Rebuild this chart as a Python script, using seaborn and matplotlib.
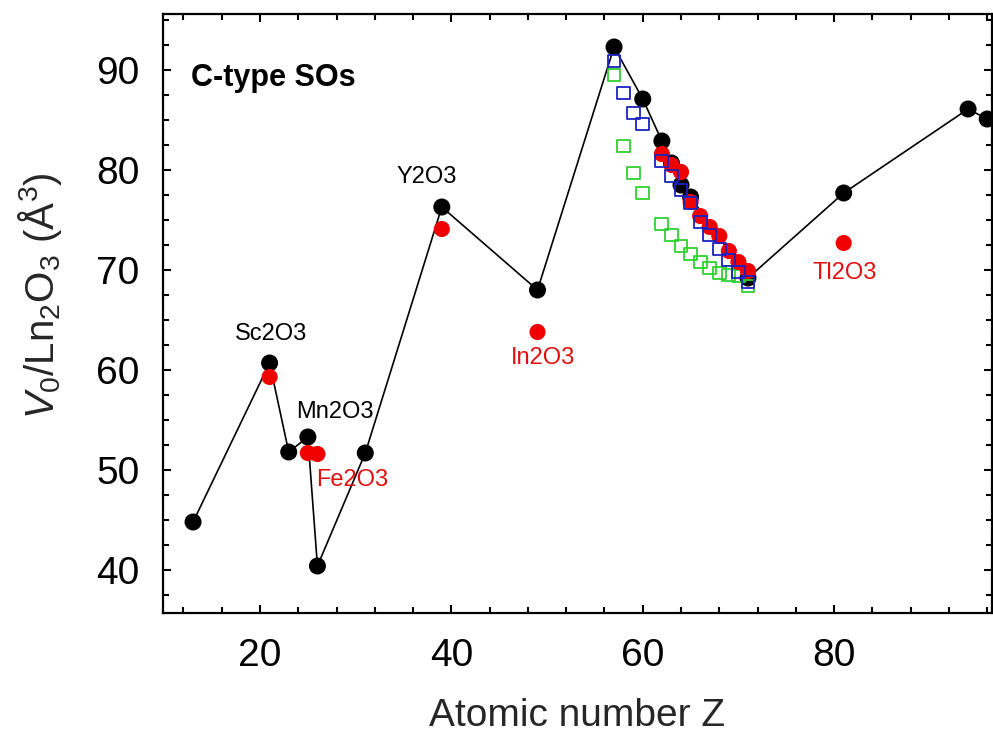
import numpy as np
import pandas as pd
import matplotlib
matplotlib.use("Agg")
import matplotlib.pyplot as plt
import seaborn as sns

# ---- data ----
z_black = [13, 21, 23, 25, 26, 31, 39, 49, 57, 60, 62, 63, 64, 65, 71, 81, 94, 96]
v_black = [44.8, 60.7, 51.8, 53.3, 40.4, 51.7, 76.3, 68.0, 92.3, 87.1, 82.9, 80.7, 78.5, 77.3, 69.2, 77.7, 86.1, 85.1]

z_red = [21, 25, 26, 39, 49, 81, 62, 63, 64, 65, 66, 67, 68, 69, 70, 71]
v_red = [59.3, 51.7, 51.6, 74.1, 63.8, 72.7, 81.6, 80.5, 79.8, 76.8, 75.4, 74.3, 73.4, 71.9, 70.8, 69.9]

z_blue = [57, 58, 59, 60, 62, 63, 64, 65, 66, 67, 68, 69, 70, 71]
v_blue = [90.9, 87.7, 85.7, 84.6, 80.9, 79.4, 78.0, 76.7, 74.8, 73.5, 72.1, 71.0, 69.8, 68.8]

z_green = [57, 58, 59, 60, 62, 63, 64, 65, 66, 67, 68, 69, 70, 71]
v_green = [89.5, 82.4, 79.7, 77.7, 74.6, 73.5, 72.4, 71.6, 70.8, 70.2, 69.7, 69.5, 69.4, 68.4]

labels_black = ["Sc2O3", "Mn2O3", "Y2O3"]
labels_black_pos = [(21.2, 63.6), (27.8, 55.8), (37.4, 79.3)]
labels_red = ["Fe2O3", "In2O3", "Tl2O3"]
labels_red_pos = [(29.6, 49.0), (49.6, 61.2), (81.1, 69.7)]

x_ticks = [20, 40, 60, 80]
y_ticks = [40, 50, 60, 70, 80, 90]

# ---- style ----
sns.set_theme(style="ticks")
plt.rcParams["font.family"] = ["Liberation Sans", "DejaVu Sans"]
plt.rcParams["mathtext.fontset"] = "custom"
plt.rcParams["mathtext.rm"] = "Liberation Sans"
plt.rcParams["mathtext.it"] = "Liberation Sans:italic"
plt.rcParams["mathtext.bf"] = "Liberation Sans:bold"

fig = plt.figure(figsize=(9.93, 7.46), dpi=100)
ax = fig.add_axes([163 / 993, 1 - 613 / 746, 829 / 993, 599 / 746])

df_black = pd.DataFrame({"Z": z_black, "V": v_black})
df_red = pd.DataFrame({"Z": z_red, "V": v_red})
df_blue = pd.DataFrame({"Z": z_blue, "V": v_blue})
df_green = pd.DataFrame({"Z": z_green, "V": v_green})

sns.lineplot(data=df_black, x="Z", y="V", color="black", linewidth=1.2, ax=ax, zorder=2)
sns.scatterplot(data=df_black, x="Z", y="V", color="black", s=150, edgecolor="none", ax=ax, zorder=3)
sns.scatterplot(data=df_green, x="Z", y="V", marker="s", s=85, facecolor="none",
                edgecolor="#2fd12f", linewidth=1.3, ax=ax, zorder=4)
sns.scatterplot(data=df_red, x="Z", y="V", color="#f00000", s=135, edgecolor="none", ax=ax, zorder=5)
sns.scatterplot(data=df_blue, x="Z", y="V", marker="s", s=85, facecolor="none",
                edgecolor="#1a22c0", linewidth=1.3, ax=ax, zorder=6)

for t, (x, y) in zip(labels_black, labels_black_pos):
    ax.text(x, y, t, color="black", fontsize=17, ha="center", va="center", zorder=7)
for t, (x, y) in zip(labels_red, labels_red_pos):
    ax.text(x, y, t, color="#e01010", fontsize=17, ha="center", va="center", zorder=7)
ax.text(12.8, 89.2, "C-type SOs", color="black", fontsize=22, fontweight="bold",
        ha="left", va="center", zorder=7)

ax.set_xlim(9.86, 96.5)
ax.set_ylim(35.7, 95.6)
ax.set_xticks(x_ticks)
ax.set_yticks(y_ticks)
ax.xaxis.set_minor_locator(matplotlib.ticker.MultipleLocator(4))
ax.yaxis.set_minor_locator(matplotlib.ticker.MultipleLocator(2.5))
ax.tick_params(which="both", direction="in", top=True, right=True, width=1.5, colors="black")
ax.tick_params(which="major", length=6, labelsize=28)
ax.tick_params(which="minor", length=4)
ax.tick_params(axis="x", which="major", pad=18)
ax.tick_params(axis="y", which="major", pad=17)
for s in ax.spines.values():
    s.set_linewidth(1.6)
    s.set_color("black")

ax.set_xlabel("Atomic number Z", fontsize=28)
ax.set_ylabel(r"$V_0$/Ln$_2$O$_3$ (Å$^3$)", fontsize=29)
ax.xaxis.set_label_coords(0.5, -0.172)
ax.xaxis.label.set_va("center")
ax.yaxis.set_label_coords(-0.148, 0.53)
ax.yaxis.label.set_va("center")

fig.savefig("out.png", dpi=100, facecolor="white")
